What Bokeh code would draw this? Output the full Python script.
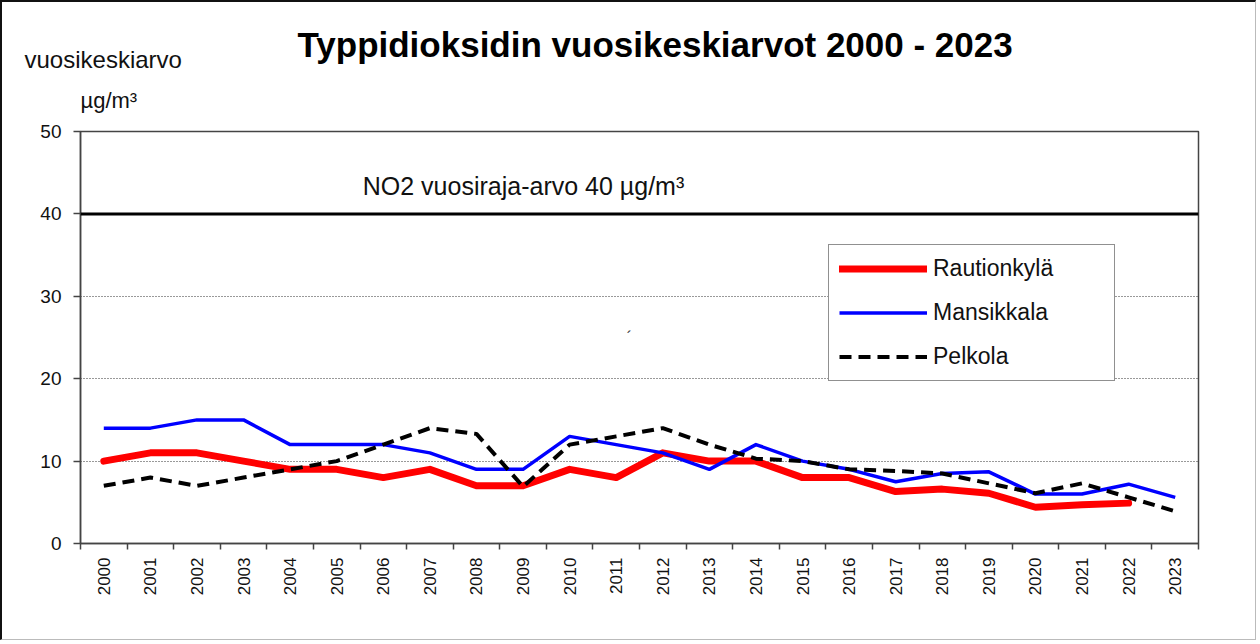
from bokeh.plotting import figure
from bokeh.models import (Range1d, FixedTicker, Span, Label, Legend, LegendItem,
                          BasicTickFormatter, Title)
from bokeh.embed import file_html
from bokeh.resources import INLINE

years = list(range(2000, 2024))
rautionkyla = [10, 11, 11, 10, 9, 9, 8, 9, 7, 7, 9, 8, 11, 10, 10, 8, 8, 6.3, 6.6, 6.1, 4.4, 4.7, 4.9]
mansikkala = [14, 14, 15, 15, 12, 12, 12, 11, 9, 9, 13, 12, 11, 9, 12, 10, 9, 7.5, 8.5, 8.7, 6.0, 6.0, 7.2, 5.6]
pelkola = [7, 8, 7, 8, 9, 10, 12, 14, 13.3, 6.9, 12, 13, 14, 12, 10.3, 10, 9, 8.8, 8.5, 7.3, 6.1, 7.3, 5.6, 3.9]
limit_value = 40
y_ticks = [0, 10, 20, 30, 40, 50]

FONT = "Liberation Sans"

p = figure(width=1256, height=640, output_backend="svg", toolbar_location=None,
           x_range=Range1d(years[0] - 0.5, years[-1] + 0.5), y_range=Range1d(0, 50))
p.min_border_left = 78
p.min_border_right = 60
p.min_border_top = 129
p.min_border_bottom = 99
p.styles = {"border-left": "2px solid #111", "border-top": "2px solid #111",
            "border-right": "1px solid #bbb", "border-bottom": "1px solid #bbb"}

p.outline_line_color = "#444"
p.outline_line_width = 1.5
p.xgrid.visible = False
p.ygrid.ticker = FixedTicker(ticks=y_ticks)
p.ygrid.grid_line_color = "#333"
p.ygrid.grid_line_dash = "1 2"
p.ygrid.grid_line_width = 1

# x axis
p.xaxis.ticker = FixedTicker(ticks=years, minor_ticks=[y - 0.5 for y in years] + [years[-1] + 0.5])
p.xaxis.formatter = BasicTickFormatter(use_scientific=False)
p.xaxis.major_tick_out = 0
p.xaxis.major_tick_in = 0
p.xaxis.minor_tick_out = 6
p.xaxis.minor_tick_in = 0
p.xaxis.minor_tick_line_color = "#444"
p.xaxis.minor_tick_line_width = 1.5
p.xaxis.axis_line_color = "#444"
p.xaxis.axis_line_width = 1.5
p.xaxis.major_label_orientation = 3.14159265 / 2
p.xaxis.major_label_text_font = FONT
p.xaxis.major_label_text_font_size = "17px"
p.xaxis.major_label_text_color = "#111"
p.xaxis.major_label_standoff = 8

# y axis
p.yaxis.ticker = FixedTicker(ticks=y_ticks)
p.yaxis.major_tick_out = 7
p.yaxis.major_tick_in = 0
p.yaxis.minor_tick_line_color = None
p.yaxis.major_tick_line_color = "#444"
p.yaxis.major_tick_line_width = 1.5
p.yaxis.axis_line_color = "#444"
p.yaxis.axis_line_width = 1.5
p.yaxis.major_label_text_font = FONT
p.yaxis.major_label_text_font_size = "19px"
p.yaxis.major_label_text_color = "#111"
p.yaxis.major_label_standoff = 12

# limit line
p.add_layout(Span(location=limit_value, dimension="width", line_color="black", line_width=3))

r_red = p.line(years[:len(rautionkyla)], rautionkyla, line_color="#ff0000", line_width=7,
               line_cap="round", line_join="round")
r_blue = p.line(years, mansikkala, line_color="#0000ff", line_width=3.5, line_join="round")
r_black = p.line(years, pelkola, line_color="black", line_width=4, line_dash="12 7")

legend = Legend(items=[LegendItem(label="Rautionkylä", renderers=[r_red]),
                       LegendItem(label="Mansikkala", renderers=[r_blue]),
                       LegendItem(label="Pelkola", renderers=[r_black])],
                location=(748, 162), orientation="vertical")
legend.border_line_color = "#222"
legend.border_line_width = 1.5
legend.background_fill_color = "white"
legend.background_fill_alpha = 1
legend.padding = 10
legend.spacing = 17
legend.glyph_width = 88
legend.glyph_height = 27
legend.label_standoff = 6
legend.label_width = 171
legend.label_text_font = FONT
legend.label_text_font_size = "23px"
legend.label_text_color = "#111"
legend.label_text_baseline = "middle"
p.add_layout(legend, "center")

# titles stacked above the frame (first added is nearest to the frame)
p.add_layout(Title(text="µg/m³", align="left", offset=0, standoff=37,
                   text_font=FONT, text_font_size="22px", text_font_style="normal",
                   text_color="#111"), "above")
p.add_layout(Title(text="vuosikeskiarvo", align="left", offset=-56, standoff=-11,
                   text_font=FONT, text_font_size="24px", text_font_style="normal",
                   text_color="#111"), "above")
p.add_layout(Title(text="Typpidioksidin vuosikeskiarvot  2000 - 2023", align="left",
                   offset=217, standoff=-28,
                   text_font=FONT, text_font_size="35px", text_font_style="bold",
                   text_color="black"), "above")

p.add_layout(Label(x=443, y=358, x_units="screen", y_units="screen",
                   text="NO2 vuosiraja-arvo 40 µg/m³", text_font=FONT, text_font_size="25px",
                   text_align="center", text_baseline="middle", text_color="#111"))
p.add_layout(Label(x=549, y=206, x_units="screen", y_units="screen",
                   text="´", text_font=FONT, text_font_size="16px",
                   text_align="center", text_baseline="middle", text_color="#333"))

open("out.html", "w").write(file_html(p, INLINE))
